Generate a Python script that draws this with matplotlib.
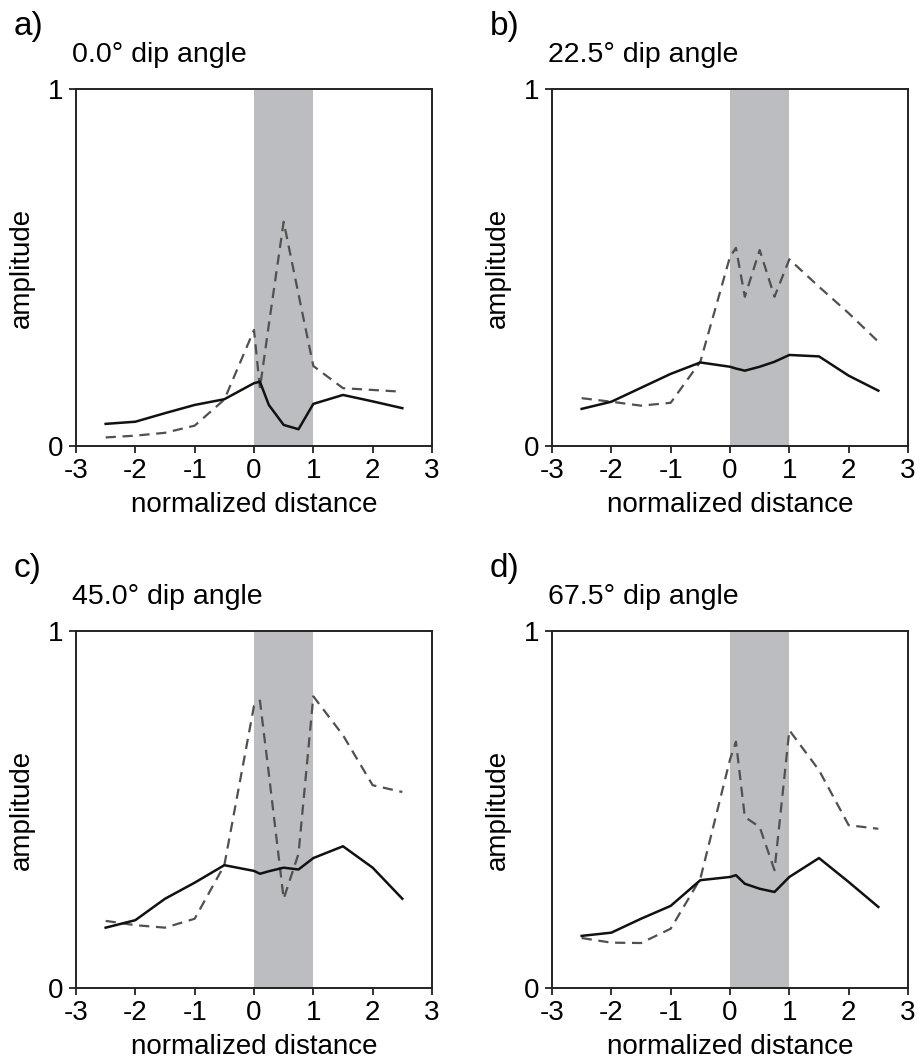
import numpy as np
import matplotlib
matplotlib.use("Agg")
import matplotlib.pyplot as plt

plt.rcParams['font.family'] = ['Liberation Sans', 'DejaVu Sans']

# sample positions along the profile (normalized distance)
dist = [-2.5, -2, -1.5, -1, -0.5, 0, 0.1, 0.25, 0.5, 0.75, 1, 1.5, 2, 2.5]

letters = ["a)", "b)", "c)", "d)"]
titles = ["0.0° dip angle", "22.5° dip angle", "45.0° dip angle", "67.5° dip angle"]

# solid curves
amp_solid_a = [0.062, 0.068, 0.092, 0.115, 0.131, 0.176, 0.180, 0.115, 0.059, 0.047, 0.118, 0.143, 0.125, 0.106]
amp_solid_b = [0.104, 0.124, 0.163, 0.202, 0.234, 0.222, 0.217, 0.211, 0.222, 0.236, 0.255, 0.251, 0.197, 0.155]
amp_solid_c = [0.169, 0.190, 0.250, 0.295, 0.344, 0.328, 0.320, 0.327, 0.337, 0.332, 0.364, 0.397, 0.337, 0.250]
amp_solid_d = [0.146, 0.155, 0.194, 0.230, 0.302, 0.311, 0.316, 0.292, 0.278, 0.269, 0.311, 0.364, 0.297, 0.227]

# dashed curves
amp_dash_a = [0.024, 0.029, 0.037, 0.057, 0.130, 0.325, 0.162, 0.340, 0.628, 0.425, 0.224, 0.162, 0.157, 0.152]
amp_dash_b = [0.134, 0.124, 0.113, 0.121, 0.236, 0.530, 0.555, 0.418, 0.549, 0.418, 0.523, 0.446, 0.372, 0.292]
amp_dash_c = [0.188, 0.176, 0.169, 0.194, 0.344, 0.790, 0.805, 0.600, 0.250, 0.376, 0.817, 0.708, 0.568, 0.549]
amp_dash_d = [0.140, 0.127, 0.126, 0.166, 0.306, 0.640, 0.690, 0.479, 0.451, 0.330, 0.722, 0.610, 0.456, 0.446]

solids = [amp_solid_a, amp_solid_b, amp_solid_c, amp_solid_d]
dashes = [amp_dash_a, amp_dash_b, amp_dash_c, amp_dash_d]

xticks = [-3, -2, -1, 0, 1, 2, 3]

W, H = 920, 1061
fig = plt.figure(figsize=(W / 100, H / 100), dpi=100)

# axes boxes in pixels: left, top
boxes = [(76, 89), (552, 89), (76, 631), (552, 631)]
aw, ah = 356, 357

for i, (left, top) in enumerate(boxes):
    ax = fig.add_axes([left / W, (H - top - ah) / H, aw / W, ah / H])
    ax.axvspan(0, 1, color='#bcbdc0', lw=0, zorder=0)
    ax.plot(dist, dashes[i], color='#505050', lw=1.6, linestyle=(0, (4.6, 3.0)), zorder=2)
    ax.plot(dist, solids[i], color='#111111', lw=1.8, zorder=3)
    ax.set_xlim(-3, 3)
    ax.set_ylim(0, 1)
    ax.set_xticks(xticks)
    ax.set_xticklabels([str(t) if t >= 0 else '-' + str(-t) for t in xticks])
    ax.set_yticks([0, 1])
    ax.set_yticklabels(['0', '1'])
    ax.tick_params(direction='out', length=5, width=1.3, labelsize=20, pad=4, color='#222222')
    for sp in ax.spines.values():
        sp.set_linewidth(1.4)
        sp.set_color('#222222')
    ax.set_xlabel('normalized distance', fontsize=20)
    ax.xaxis.set_label_coords(0.5, -0.128)
    ax.set_ylabel('amplitude', fontsize=20)
    ax.yaxis.set_label_coords(-0.115, 0.5)

    fig.text((left - 62) / W, 1 - (top - 54) / H, letters[i], fontsize=24, va='baseline', ha='left')
    fig.text((left - 4) / W, 1 - (top - 27) / H, titles[i], fontsize=20.5, va='baseline', ha='left')

fig.savefig('out.png', dpi=100)
